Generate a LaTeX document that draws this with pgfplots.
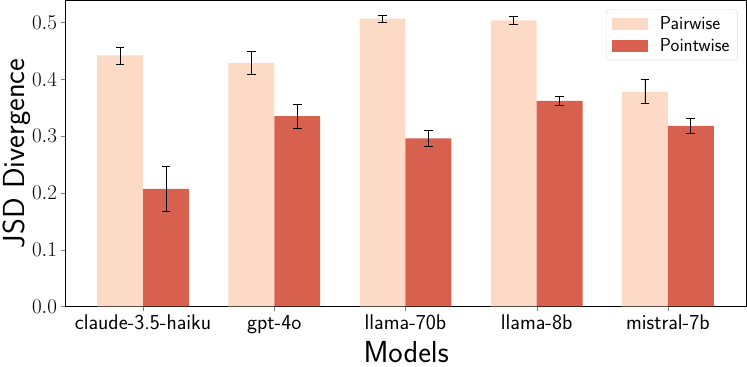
\documentclass[border=0pt]{standalone}
\usepackage{pgfplots}
\pgfplotsset{compat=1.18}
\definecolor{pairc}{HTML}{FDDAC6}
\definecolor{pointc}{HTML}{D8604F}
\begin{document}
\begin{tikzpicture}
\begin{axis}[
    width=672pt, height=302pt,
    scale only axis,
    xmin=-0.59, xmax=4.6,
    ymin=0, ymax=0.539,
    xtick={0,1,2,3,4},
    xticklabels={claude-3.5-haiku,gpt-4o,llama-70b,llama-8b,mistral-7b},
    ytick={0,0.1,0.2,0.3,0.4,0.5},
    yticklabel style={/pgf/number format/fixed,/pgf/number format/fixed zerofill,/pgf/number format/precision=1},
    yticklabel style={font=\fontsize{22}{24}\selectfont},
    xticklabel style={font=\sffamily\fontsize{21}{23}\selectfont},
    tick align=outside,
    tick pos=left,
    major tick length=5pt,
    xlabel={\sffamily Models},
    ylabel={\sffamily JSD Divergence},
    label style={font=\sffamily\fontsize{30}{32}\selectfont},
    xlabel style={yshift=-1pt},
    ylabel style={yshift=-6pt},
    axis line style={line width=0.8pt},
    legend style={at={(0.987,0.97)}, anchor=north east, draw=black!15, rounded corners=3pt,
        font=\sffamily\fontsize{18.5}{21}\selectfont, row sep=3pt, inner xsep=6pt, inner ysep=5pt,
        cells={anchor=west}},
    legend image code/.code={\fill[#1, sharp corners] (0pt,-6pt) rectangle (35pt,6pt); \path (0pt,0pt) -- (45pt,0pt);},
    error bars/y dir=both,
    error bars/y explicit,
    error bars/error bar style={black, line width=0.8pt},
    error bars/error mark options={rotate=90, black, mark size=4.3pt, line width=0.8pt},
]
% pairwise bars sit left of each category, pointwise bars right
\addplot[ybar, bar width=0.35, bar shift=0, fill=pairc, draw=none]
  coordinates {
    (-0.175,0.442) +- (0,0.015)
    (0.825,0.429) +- (0,0.020)
    (1.825,0.507) +- (0,0.006)
    (2.825,0.504) +- (0,0.007)
    (3.825,0.378) +- (0,0.021)
  };
\addlegendentry{Pairwise}
\addplot[ybar, bar width=0.35, bar shift=0, fill=pointc, draw=none]
  coordinates {
    (0.175,0.207) +- (0,0.040)
    (1.175,0.335) +- (0,0.021)
    (2.175,0.296) +- (0,0.014)
    (3.175,0.362) +- (0,0.008)
    (4.175,0.318) +- (0,0.014)
  };
\addlegendentry{Pointwise}
\path (rel axis cs:0.5,0) ++(0,-67pt) coordinate (bottompad);
\end{axis}
\end{tikzpicture}
\end{document}
